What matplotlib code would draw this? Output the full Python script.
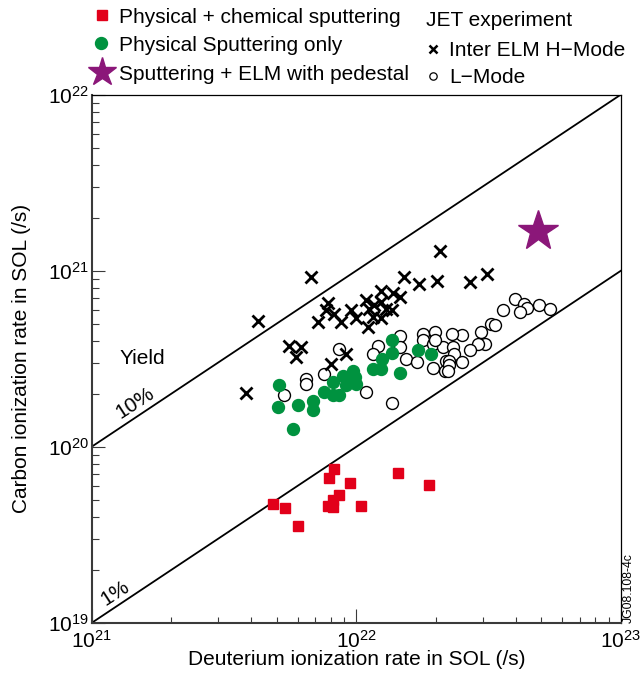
import matplotlib
matplotlib.use('Agg')
import matplotlib.pyplot as plt
import numpy as np

plt.rcParams['font.family'] = ['Liberation Sans', 'DejaVu Sans']

# physical + chemical sputtering (red squares)
chem_x = [8.27e21, 7.92e21, 9.43e21, 1.44e22, 1.89e22, 4.83e21, 5.40e21,
          6.01e21, 8.59e21, 8.15e21, 7.80e21, 8.15e21, 1.04e22]
chem_y = [7.49e19, 6.66e19, 6.23e19, 7.10e19, 6.07e19, 4.73e19, 4.49e19,
          3.55e19, 5.35e19, 4.99e19, 4.63e19, 4.57e19, 4.61e19]

# physical sputtering only (green dots)
phys_x = [5.12e21, 5.05e21, 6.01e21, 6.85e21, 6.85e21, 5.75e21, 7.58e21,
          8.15e21, 8.64e21, 8.15e21, 8.89e21, 9.29e21, 9.70e21, 9.85e21,
          1.00e22, 9.16e21, 1.155e22, 1.24e22, 1.25e22, 1.36e22, 1.36e22,
          1.46e22, 1.71e22, 1.92e22]
phys_y = [2.23e20, 1.69e20, 1.72e20, 1.83e20, 1.62e20, 1.26e20, 2.04e20,
          1.96e20, 1.96e20, 2.33e20, 2.54e20, 2.43e20, 2.71e20, 2.49e20,
          2.26e20, 2.23e20, 2.77e20, 2.77e20, 3.16e20, 3.40e20, 4.02e20,
          2.62e20, 3.53e20, 3.38e20]

# JET inter ELM H-mode (crosses)
hmode_x = [2.07e22, 6.75e21, 1.52e22, 1.72e22, 2.01e22, 4.24e21, 1.24e22,
           1.375e22, 1.46e22, 7.80e21, 7.70e21, 8.27e21, 7.15e21, 8.77e21,
           9.57e21, 1.00e22, 1.09e22, 1.12e22, 1.17e22, 1.24e22, 1.30e22,
           1.155e22, 1.24e22, 1.11e22, 1.36e22, 5.59e21, 6.19e21, 5.93e21,
           9.16e21, 8.04e21, 3.83e21, 2.70e22, 3.12e22]
hmode_y = [1.29e21, 9.2e20, 9.2e20, 8.45e20, 8.74e20, 5.17e20, 7.66e20,
           7.47e20, 7.09e20, 6.55e20, 5.95e20, 5.70e20, 5.11e20, 5.11e20,
           5.95e20, 5.41e20, 6.79e20, 6.09e20, 6.36e20, 6.64e20, 6.09e20,
           5.45e20, 5.41e20, 4.78e20, 5.95e20, 3.76e20, 3.68e20, 3.23e20,
           3.38e20, 2.96e20, 2.03e20, 8.62e20, 9.54e20]

# JET L-mode (open circles)
lmode_x = [8.64e21, 7.58e21, 6.47e21, 6.47e21, 5.35e21, 1.09e22, 1.37e22,
           1.21e22, 1.155e22, 1.46e22, 1.46e22, 1.54e22, 1.69e22, 1.78e22,
           1.98e22, 1.79e22, 1.95e22, 2.13e22, 1.95e22, 2.16e22, 2.19e22,
           3.97e22, 4.30e22, 4.40e22, 4.91e22, 5.39e22, 4.15e22, 3.57e22,
           3.24e22, 3.34e22, 2.97e22, 3.06e22, 2.88e22, 2.70e22, 2.50e22,
           2.29e22, 1.98e22, 2.32e22, 2.33e22, 2.25e22, 2.25e22, 2.22e22,
           2.50e22]
lmode_y = [3.61e20, 2.60e20, 2.43e20, 2.26e20, 1.98e20, 2.06e20, 1.77e20,
           3.76e20, 3.35e20, 4.24e20, 3.68e20, 3.16e20, 3.02e20, 4.39e20,
           4.48e20, 4.02e20, 3.85e20, 3.68e20, 2.81e20, 2.71e20, 3.09e20,
           6.88e20, 6.50e20, 6.17e20, 6.36e20, 6.09e20, 5.82e20, 5.95e20,
           5.00e20, 4.89e20, 4.48e20, 3.81e20, 3.85e20, 3.56e20, 4.29e20,
           4.39e20, 4.02e20, 3.68e20, 3.35e20, 3.09e20, 2.90e20, 2.71e20,
           3.02e20]

# sputtering + ELM with pedestal (star)
star_x = [4.86e22]
star_y = [1.68e21]

# yield lines
line_x = [1e21, 1e23]
yield_10 = [1e20, 1e22]
yield_1 = [1e19, 1e21]

red = '#e2001a'
green = '#00923f'
purple = '#8b1779'
spine_col = '#3a3a3a'

fig = plt.figure(figsize=(6.43, 6.77), dpi=100)
ax = fig.add_axes([91.5 / 643, 1 - 623 / 677, 529.5 / 643, 528.5 / 677])

ax.plot(line_x, yield_10, color='black', lw=1.3, zorder=2)
ax.plot(line_x, yield_1, color='black', lw=1.3, zorder=2)

ax.plot(lmode_x, lmode_y, 'o', ms=8.6, mfc='white', mec='black', mew=1.0, ls='none', zorder=3)
ax.plot(phys_x, phys_y, 'o', ms=8.6, mfc=green, mec=green, ls='none', zorder=4)
ax.plot(chem_x, chem_y, 's', ms=7.8, mfc=red, mec=red, ls='none', zorder=4)
ax.plot(hmode_x, hmode_y, 'x', ms=8, mec='black', mew=2.0, ls='none', zorder=5)
ax.plot(star_x, star_y, '*', ms=30, mfc=purple, mec=purple, ls='none', zorder=6)

ax.set_xscale('log')
ax.set_yscale('log')
ax.set_xlim(1e21, 1e23)
ax.set_ylim(1e19, 1e22)

for side in ['left', 'bottom']:
    ax.spines[side].set_color(spine_col)
    ax.spines[side].set_linewidth(1.5)
for side in ['top', 'right']:
    ax.spines[side].set_color('black')
    ax.spines[side].set_linewidth(0.9)

ax.tick_params(which='both', direction='in', top=False, right=False, color=spine_col, width=0.8)
ax.tick_params(axis='x', which='major', length=10, pad=5, labelsize=15)
ax.tick_params(axis='x', which='minor', length=4.3)
ax.tick_params(axis='y', which='major', length=9, pad=2, labelsize=15)
ax.tick_params(axis='y', which='minor', length=5)

ax.set_xlabel('Deuterium ionization rate in SOL (/s)', fontsize=15)
ax.xaxis.set_label_coords(0.5, -0.052)
ax.set_ylabel('Carbon ionization rate in SOL (/s)', fontsize=15)
ax.yaxis.set_label_coords(-0.115, 0.5)

# in-plot annotations
ax.text(0.052, 0.50, 'Yield', transform=ax.transAxes, fontsize=15, ha='left', va='center')
ax.text(0.083, 0.416, '10%', transform=ax.transAxes, fontsize=15, ha='center', va='center', rotation=33)
ax.text(0.045, 0.057, '1%', transform=ax.transAxes, fontsize=15, ha='center', va='center', rotation=33)

fig.text(628.3 / 643, 1 - 623 / 677, 'JG08.108-4c', fontsize=8.8, rotation=90, ha='center', va='bottom')

# legend drawn on an overlay in pixel space
lax = fig.add_axes([0, 0, 1, 1])
lax.set_xlim(0, 643)
lax.set_ylim(677, 0)
lax.axis('off')
lax.plot([101.7], [14.5], 's', ms=7.5, mfc=red, mec=red)
lax.plot([100.7], [42.7], 'o', ms=8.6, mfc=green, mec=green)
lax.plot([101.7], [71.5], '*', ms=21, mfc=purple, mec=purple)
lax.plot([433.3], [49.3], 'x', ms=5.5, mec='black', mew=1.8)
lax.plot([432.7], [76], 'o', ms=5.3, mfc='white', mec='black', mew=0.9)

left_labels = ['Physical + chemical sputtering', 'Physical Sputtering only',
               'Sputtering + ELM with pedestal']
left_base = [22.7, 50.7, 80]
for lab, yb in zip(left_labels, left_base):
    lax.text(119.3, yb, lab, fontsize=15, ha='left', va='baseline')
lax.text(426, 26, 'JET experiment', fontsize=15, ha='left', va='baseline')
lax.text(449.3, 56, 'Inter ELM H\u2212Mode', fontsize=15, ha='left', va='baseline')
lax.text(449.3, 82.7, 'L\u2212Mode', fontsize=15, ha='left', va='baseline')

fig.savefig('out.png', dpi=100)
